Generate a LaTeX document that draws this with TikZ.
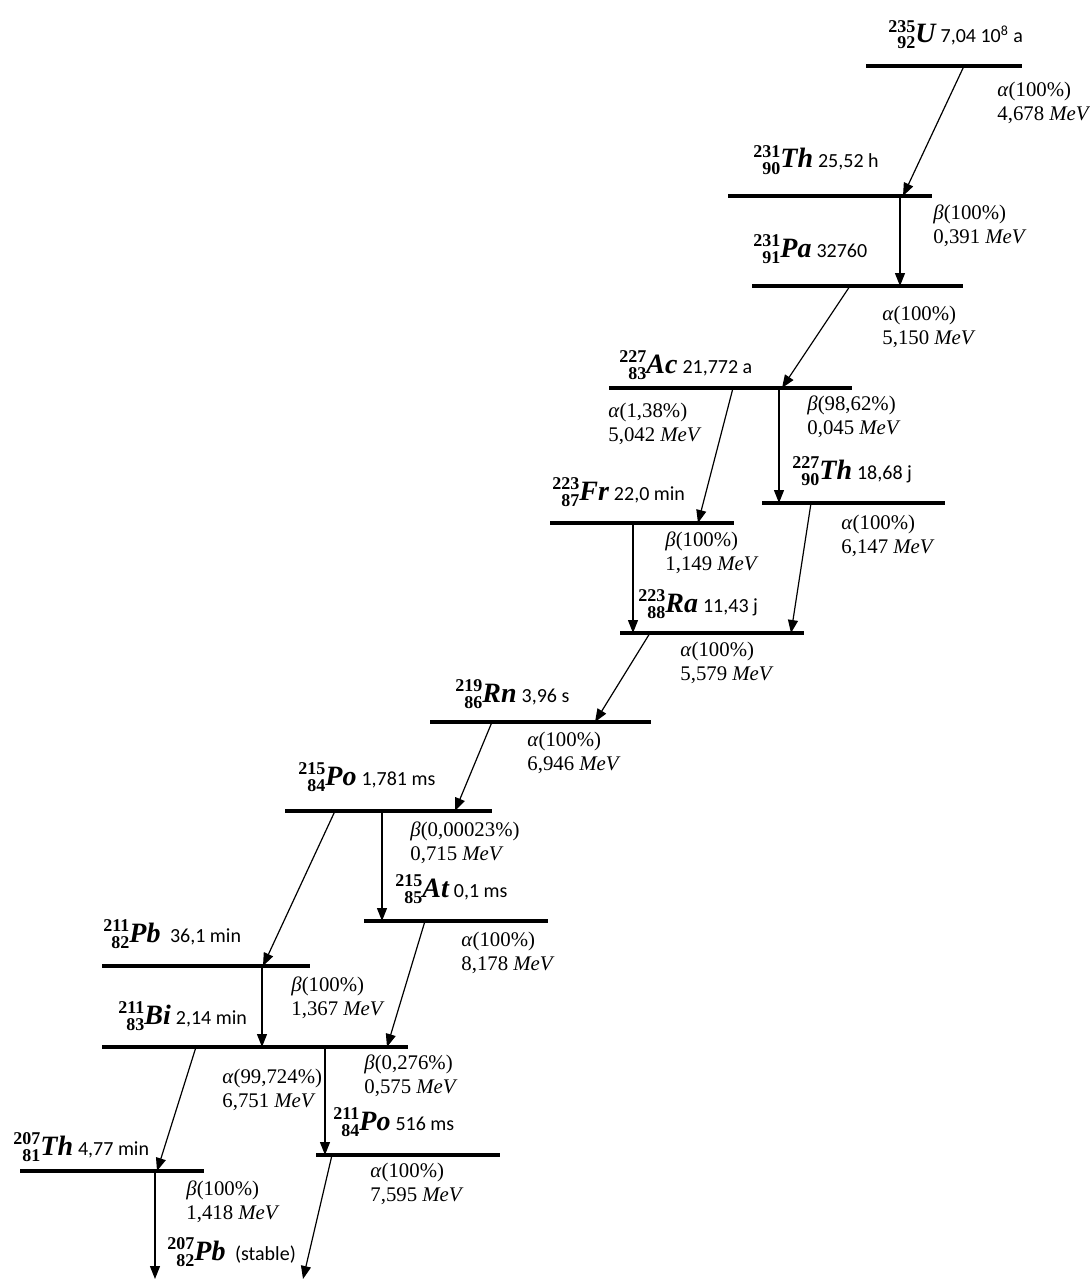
\documentclass[tikz,border=0pt]{standalone}
\usepackage{fontspec}
\setmainfont{Liberation Serif}
\newfontfamily\hlfam{Carlito}
\usetikzlibrary{arrows.meta}
\newcommand\nucnum[2]{\raisebox{-3pt}{\fontsize{9}{7.6}\selectfont\bfseries\begin{tabular}[b]{@{}r@{}}#1\\#2\end{tabular}}}
\newcommand\nuc[4]{\nucnum{#1}{#2}{\fontsize{14}{14}\selectfont\bfseries\itshape #3}\hspace{2.5pt}{\hlfam\fontsize{10}{12}\selectfont #4}}
\begin{document}
\begin{tikzpicture}[x=0.5pt,y=-0.5pt,
  lev/.style={line width=1.8pt},
  dec/.style={line width=0.6pt,-{Triangle[length=6.5pt,width=5pt]}},
  nl/.style={anchor=base west,inner sep=0pt},
  dl/.style={anchor=west,align=left,inner sep=0pt,font=\fontsize{10.4}{12}\selectfont}]
\useasboundingbox (0,0) rectangle (1089,1279);
% levels
\draw[lev] (866,66) -- (1022,66);
\draw[lev] (728,196) -- (932,196);
\draw[lev] (752,286) -- (963,286);
\draw[lev] (609,388) -- (852,388);
\draw[lev] (762,503) -- (945,503);
\draw[lev] (550,523) -- (734,523);
\draw[lev] (620,633) -- (804,633);
\draw[lev] (430,722) -- (651,722);
\draw[lev] (285,811) -- (492,811);
\draw[lev] (364,921) -- (548,921);
\draw[lev] (102,966) -- (310,966);
\draw[lev] (102,1047) -- (408,1047);
\draw[lev] (20,1171) -- (204,1171);
\draw[lev] (316,1155) -- (500,1155);
% arrow end points
\coordinate (a1s) at (964,66);   \coordinate (a1e) at (903,196);
\coordinate (a2s) at (900,196);  \coordinate (a2e) at (900,286);
\coordinate (a3s) at (850,286);  \coordinate (a3e) at (782,388);
\coordinate (a4s) at (779,388);  \coordinate (a4e) at (779,503);
\coordinate (a5s) at (733,388);  \coordinate (a5e) at (698,523);
\coordinate (a6s) at (633,523);  \coordinate (a6e) at (633,633);
\coordinate (a7s) at (811,503);  \coordinate (a7e) at (791,633);
\coordinate (a8s) at (650,633);  \coordinate (a8e) at (595,722);
\coordinate (a9s) at (492,722);  \coordinate (a9e) at (455,811);
\coordinate (a10s) at (382,811); \coordinate (a10e) at (382,921);
\coordinate (a11s) at (335,811); \coordinate (a11e) at (263,966);
\coordinate (a12s) at (425,921); \coordinate (a12e) at (387,1047);
\coordinate (a13s) at (262,966); \coordinate (a13e) at (262,1047);
\coordinate (a14s) at (325,1047);\coordinate (a14e) at (325,1155);
\coordinate (a15s) at (196,1047);\coordinate (a15e) at (157,1171);
\coordinate (a16s) at (155,1171);\coordinate (a16e) at (155,1279);
\coordinate (a17s) at (332,1155);\coordinate (a17e) at (303,1279);
\foreach \i in {1,...,17} {\draw[dec] (a\i s) -- (a\i e);}
% nuclide labels
\node[nl] (nU)   at (888,43)   {\nuc{235}{92}{U}{7,04 10\textsuperscript{8} a}};
\node[nl] (nTh1) at (753,168)  {\nuc{231}{90}{Th}{25,52 h}};
\node[nl] (nPa)  at (753,257)  {\nuc{231}{91}{Pa}{32760}};
\node[nl] (nAc)  at (619,373)  {\nuc{227}{83}{Ac}{21,772 a}};
\node[nl] (nTh2) at (792,479)  {\nuc{227}{90}{Th}{18,68 j}};
\node[nl] (nFr)  at (552,500)  {\nuc{223}{87}{Fr}{22,0 min}};
\node[nl] (nRa)  at (638,612)  {\nuc{223}{88}{Ra}{11,43 j}};
\node[nl] (nRn)  at (455,702)  {\nuc{219}{86}{Rn}{3,96 s}};
\node[nl] (nPo1) at (298,785)  {\nuc{215}{84}{Po}{1,781 ms}};
\node[nl] (nAt)  at (395,897)  {\nuc{215}{85}{At}{0,1 ms}};
\node[nl] (nPb1) at (103,942)  {\nuc{211}{82}{Pb}{\ 36,1 min}};
\node[nl] (nBi)  at (118,1024) {\nuc{211}{83}{Bi}{2,14 min}};
\node[nl] (nPo2) at (333,1130) {\nuc{211}{84}{Po}{516 ms}};
\node[nl] (nTl)  at (13,1155)  {\nuc{207}{81}{Th}{4,77 min}};
\node[nl] (nPb2) at (167,1260) {\nuc{207}{82}{Pb}{\ (stable)}};
% decay labels
\node[dl] (d1)  at (997,103)  {\textit{α}(100\%)\\4,678 \textit{MeV}};
\node[dl] (d2)  at (933,226)  {\textit{β}(100\%)\\0,391 \textit{MeV}};
\node[dl] (d3)  at (882,327)  {\textit{α}(100\%)\\5,150 \textit{MeV}};
\node[dl] (d4)  at (608,424)  {\textit{α}(1,38\%)\\5,042 \textit{MeV}};
\node[dl] (d5)  at (807,417)  {\textit{β}(98,62\%)\\0,045 \textit{MeV}};
\node[dl] (d6)  at (841,536)  {\textit{α}(100\%)\\6,147 \textit{MeV}};
\node[dl] (d7)  at (665,553)  {\textit{β}(100\%)\\1,149 \textit{MeV}};
\node[dl] (d8)  at (680,663)  {\textit{α}(100\%)\\5,579 \textit{MeV}};
\node[dl] (d9)  at (527,753)  {\textit{α}(100\%)\\6,946 \textit{MeV}};
\node[dl] (d10) at (410,843)  {\textit{β}(0,00023\%)\\0,715 \textit{MeV}};
\node[dl] (d11) at (461,953)  {\textit{α}(100\%)\\8,178 \textit{MeV}};
\node[dl] (d12) at (291,998)  {\textit{β}(100\%)\\1,367 \textit{MeV}};
\node[dl] (d13) at (222,1090) {\textit{α}(99,724\%)\\6,751 \textit{MeV}};
\node[dl] (d14) at (364,1076) {\textit{β}(0,276\%)\\0,575 \textit{MeV}};
\node[dl] (d15) at (370,1184) {\textit{α}(100\%)\\7,595 \textit{MeV}};
\node[dl] (d16) at (186,1202) {\textit{β}(100\%)\\1,418 \textit{MeV}};
\end{tikzpicture}
\end{document}
